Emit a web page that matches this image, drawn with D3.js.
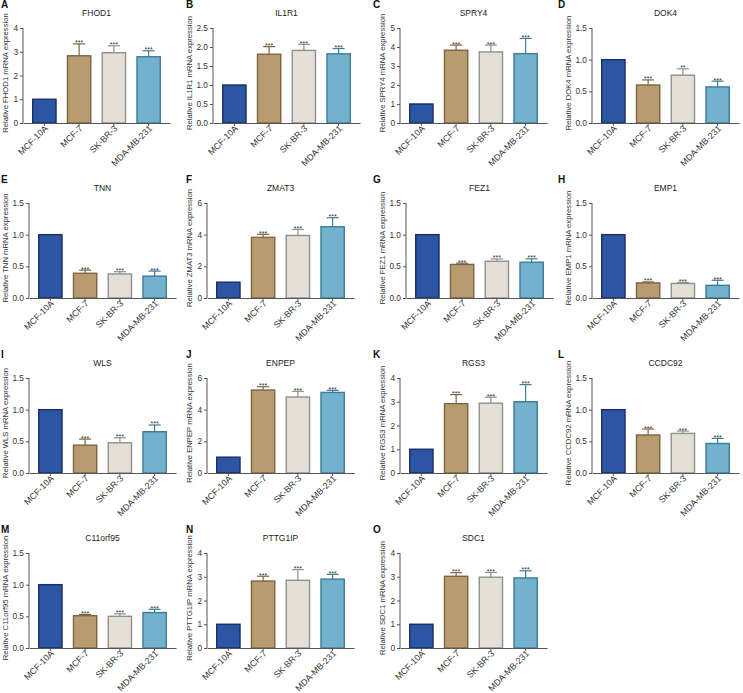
<!DOCTYPE html>
<html>
<head>
<meta charset="utf-8">
<script src="https://cdn.jsdelivr.net/npm/d3@7"></script>
<style>
  body { margin: 0; background: #fff; }
  svg { display: block; }
</style>
</head>
<body>
<svg id="chart" width="743" height="693"></svg>
<script>
const letters = ['A', 'B', 'C', 'D', 'E', 'F', 'G', 'H', 'I', 'J', 'K', 'L', 'M', 'N', 'O'];
const genes = ['FHOD1', 'IL1R1', 'SPRY4', 'DOK4', 'TNN', 'ZMAT3', 'FEZ1', 'EMP1',
  'WLS', 'ENPEP', 'RGS3', 'CCDC92', 'C11orf95', 'PTTG1IP', 'SDC1'];
const cellLines = ['MCF-10A', 'MCF-7', 'SK-BR-3', 'MDA-MB-231'];

// mean relative expression per gene, in cellLines order
const means = [
  [1, 2.83, 2.96, 2.79],
  [1, 1.81, 1.91, 1.82],
  [1, 3.83, 3.74, 3.65],
  [1, 0.60, 0.755, 0.57],
  [1, 0.39, 0.38, 0.345],
  [1, 3.83, 3.95, 4.50],
  [1, 0.53, 0.58, 0.565],
  [1, 0.238, 0.23, 0.20],
  [1, 0.44, 0.477, 0.652],
  [1, 5.24, 4.80, 5.09],
  [1, 2.92, 2.94, 3.00],
  [1, 0.60, 0.625, 0.466],
  [1, 0.51, 0.50, 0.56],
  [1, 2.82, 2.85, 2.90],
  [1, 3.02, 2.98, 2.95]
];
// error bar (SD) per gene
const errors = [
  [0, 0.50, 0.29, 0.25],
  [0, 0.20, 0.16, 0.14],
  [0, 0.27, 0.36, 0.80],
  [0, 0.08, 0.10, 0.09],
  [0, 0.05, 0.035, 0.08],
  [0, 0.19, 0.38, 0.57],
  [0, 0.02, 0.037, 0.053],
  [0, 0.016, 0.016, 0.08],
  [0, 0.095, 0.08, 0.106],
  [0, 0.21, 0.36, 0.13],
  [0, 0.38, 0.25, 0.72],
  [0, 0.094, 0.037, 0.08],
  [0, 0.02, 0.04, 0.05],
  [0, 0.20, 0.45, 0.20],
  [0, 0.15, 0.20, 0.30]
];
const signif = [
  ['', '***', '***', '***'], ['', '***', '***', '***'], ['', '***', '***', '***'], ['', '***', '**', '***'],
  ['', '***', '***', '***'], ['', '***', '***', '***'], ['', '***', '***', '***'], ['', '***', '***', '***'],
  ['', '***', '***', '***'], ['', '***', '***', '***'], ['', '***', '***', '***'], ['', '***', '***', '***'],
  ['', '***', '***', '***'], ['', '***', '***', '***'], ['', '***', '***', '***']
];
const yMax = [4, 2.5, 5, 1.5, 1.5, 6, 1.5, 1.5, 1.5, 6, 4, 1.5, 1.5, 4, 4];
const tickStep = [1, 0.5, 1, 0.5, 0.5, 2, 0.5, 0.5, 0.5, 2, 1, 0.5, 0.5, 1, 1];

const fills = ['#2c55a3', '#b89c6f', '#e4e0d6', '#72b2cc'];
const strokes = ['#1b2e63', '#7d6541', '#8f8f8f', '#3d7d96'];

const font = 'Liberation Sans, Arial, sans-serif';
const colLabelX = [5, 189, 382, 568],   // centre of the rotated y label
  colLetterX = [1, 186, 373, 558],
  rowStep = 175,
  plotTop = 28,
  plotH = 95,
  plotW = 147;

const svg = d3.select('#chart').style('font-family', font);

genes.forEach(function(gene, i) {
  const col = i % 4, row = Math.floor(i / 4);
  const top = plotTop + row * rowStep;
  const g = svg.append('g');

  const y = d3.scaleLinear().domain([0, yMax[i]]).range([top + plotH, top]);
  const ticks = d3.range(0, yMax[i] + tickStep[i] / 2, tickStep[i]);
  const fmt = tickStep[i] < 1 ? d3.format('.1f') : d3.format('d');
  const axisX = colLabelX[col] + 13 + (tickStep[i] < 1 ? 11 : 5);

  const x = d3.scaleBand().domain(cellLines)
    .range([axisX, axisX + plotW]).paddingInner(0.33).paddingOuter(0.28);

  // panel letter
  svg.append('text')
    .attr('x', colLetterX[col]).attr('y', row * rowStep + 8)
    .attr('font-size', 10).attr('font-weight', 'bold').attr('fill', '#111')
    .text(letters[i]);

  // title
  svg.append('text')
    .attr('x', axisX + plotW / 2).attr('y', row * rowStep + 16)
    .attr('text-anchor', 'middle').attr('font-size', 8.5).attr('fill', '#222')
    .text(gene);

  // y label
  svg.append('text')
    .attr('transform', `translate(${colLabelX[col] + 3},${row * rowStep + 73}) rotate(-90)`)
    .attr('text-anchor', 'middle').attr('font-size', 7.7).attr('fill', '#333')
    .text(`Relative ${gene} mRNA expression`);

  // bars
  g.selectAll('.bar').data(cellLines).enter().append('rect')
    .attr('class', 'bar')
    .attr('x', d => x(d))
    .attr('width', x.bandwidth())
    .attr('y', (d, j) => y(means[i][j]))
    .attr('height', (d, j) => y(0) - y(means[i][j]))
    .attr('fill', (d, j) => fills[j])
    .attr('stroke', (d, j) => strokes[j])
    .attr('stroke-width', 1.4);

  // error bars
  const eb = g.selectAll('.err').data(cellLines.filter((d, j) => errors[i][j] > 0))
    .enter().append('g').attr('class', 'err');
  const cx = d => x(d) + x.bandwidth() / 2,
    j = d => cellLines.indexOf(d),
    errTop = d => y(means[i][j(d)] + errors[i][j(d)]);
  eb.append('line')
    .attr('x1', cx).attr('x2', cx)
    .attr('y1', d => y(means[i][j(d)]))
    .attr('y2', errTop)
    .attr('stroke', d => strokes[j(d)]).attr('stroke-width', 1.2);
  eb.append('line')
    .attr('x1', d => cx(d) - 6).attr('x2', d => cx(d) + 6)
    .attr('y1', errTop).attr('y2', errTop)
    .attr('stroke', d => strokes[j(d)]).attr('stroke-width', 1.2);
  eb.append('text')
    .attr('x', cx)
    .attr('y', d => errTop(d) + 1.5)
    .attr('text-anchor', 'middle').attr('font-size', 7).attr('fill', '#333')
    .text(d => signif[i][j(d)]);

  // y axis
  const yAxis = g.append('g')
    .attr('transform', `translate(${axisX},0)`)
    .call(d3.axisLeft(y).tickValues(ticks).tickFormat(fmt).tickSize(3).tickPadding(2));
  yAxis.select('.domain').attr('stroke', '#555').attr('d', `M0,${y(yMax[i])}V${y(0)}`);
  yAxis.selectAll('.tick line').attr('stroke', '#555');
  yAxis.selectAll('.tick text').attr('font-size', 8.3).attr('fill', '#333').attr('font-family', font);

  // x axis
  const xAxis = g.append('g')
    .attr('transform', `translate(0,${y(0)})`)
    .call(d3.axisBottom(x).tickSize(3).tickSizeOuter(0));
  xAxis.select('.domain').attr('stroke', '#555');
  xAxis.selectAll('.tick line').attr('stroke', '#555');
  xAxis.selectAll('.tick text')
    .attr('font-size', 8.8).attr('fill', '#333').attr('font-family', font)
    .attr('text-anchor', 'end')
    .attr('dy', null)
    .attr('y', 0)
    .attr('transform', 'translate(4,6) rotate(-45)');
});
</script>
</body>
</html>
